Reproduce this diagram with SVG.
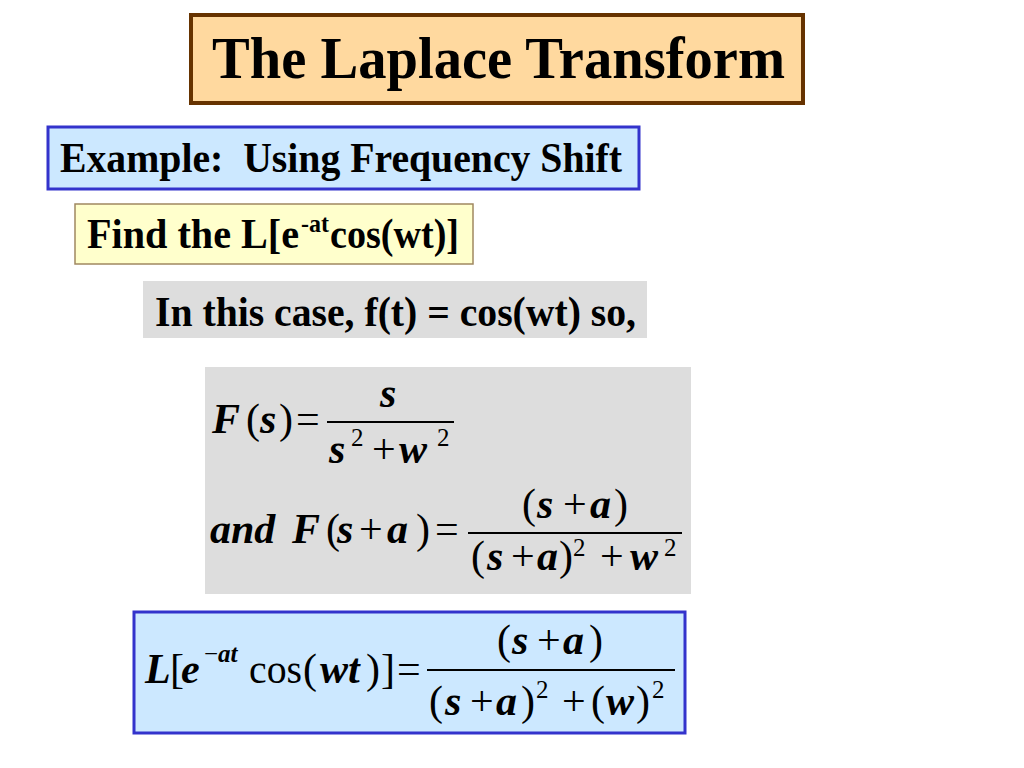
<svg xmlns="http://www.w3.org/2000/svg" width="1024" height="768" viewBox="0 0 1024 768">
<style>
text{font-family:"Liberation Serif","Times New Roman",serif;fill:#000}
.b{font-weight:bold}
.t{font-size:43px;font-weight:bold}
.m{font-size:42px}
.v{font-size:42px;font-weight:bold;font-style:italic}
.sup{font-size:25px}
.frac{stroke:#000;stroke-width:2}
</style>
<rect width="1024" height="768" fill="#fff"/>
<g id="title">
<rect x="191" y="15" width="612" height="88" fill="#FFD99F" stroke="#663300" stroke-width="4"/>
<text x="212" y="78" font-size="60" class="b" textLength="573" lengthAdjust="spacingAndGlyphs">The Laplace Transform</text>
</g>
<g id="example">
<rect x="48" y="127" width="591" height="62" fill="#CCE8FF" stroke="#3333CC" stroke-width="3"/>
<text x="60" y="172" class="t" xml:space="preserve" textLength="562" lengthAdjust="spacingAndGlyphs">Example:  Using Frequency Shift</text>
</g>
<g id="find">
<rect x="75" y="204" width="398" height="60" fill="#FFFFCC" stroke="#A08860" stroke-width="1.5"/>
<text x="87" y="248" class="t" textLength="212" lengthAdjust="spacingAndGlyphs">Find the L[e</text>
<text x="301" y="232" font-size="25" class="b" textLength="28" lengthAdjust="spacingAndGlyphs">-at</text>
<text x="330" y="248" class="t" textLength="129" lengthAdjust="spacingAndGlyphs">cos(wt)]</text>
</g>
<g id="case">
<rect x="143" y="281" width="504" height="57" fill="#DDDDDD"/>
<text x="155" y="326" class="t" textLength="481" lengthAdjust="spacingAndGlyphs">In this case, f(t) = cos(wt) so,</text>
</g>
<g id="formulas">
<rect x="205" y="367" width="486" height="227" fill="#DDDDDD"/>
<text x="212" y="433" class="v">F</text>
<text x="246" y="433" class="m">(</text>
<text x="260" y="433" class="v">s</text>
<text x="279" y="433" class="m">)</text>
<text x="296" y="433" class="m">=</text>
<text x="380" y="407" class="v">s</text>
<text x="329" y="463" class="v">s</text>
<text x="351" y="446" class="m sup">2</text>
<text x="372" y="463" class="m">+</text>
<text x="399" y="463" class="v">w</text>
<text x="437" y="446" class="m sup">2</text>
<text x="210" y="543" class="v">and</text>
<text x="292" y="543" class="v">F</text>
<text x="326" y="543" class="m">(</text>
<text x="337" y="543" class="v">s</text>
<text x="359" y="543" class="m">+</text>
<text x="387" y="543" class="v">a</text>
<text x="416" y="543" class="m">)</text>
<text x="435" y="543" class="m">=</text>
<text x="522" y="518" class="m">(</text>
<text x="537" y="518" class="v">s</text>
<text x="563" y="518" class="m">+</text>
<text x="590" y="518" class="v">a</text>
<text x="614" y="518" class="m">)</text>
<text x="471" y="570" class="m">(</text>
<text x="487" y="570" class="v">s</text>
<text x="511" y="570" class="m">+</text>
<text x="537" y="570" class="v">a</text>
<text x="559" y="570" class="m">)</text>
<text x="573" y="556" class="m sup">2</text>
<text x="600" y="570" class="m">+</text>
<text x="630" y="570" class="v">w</text>
<text x="664" y="556" class="m sup">2</text>
</g>
<g id="result">
<rect x="134" y="612" width="551" height="121" fill="#CCE8FF" stroke="#3333CC" stroke-width="3"/>
<text x="145" y="683" class="v">L</text>
<text x="170" y="683" class="m">[</text>
<text x="181" y="683" class="v">e</text>
<text x="204" y="662" class="m sup">−<tspan font-weight="bold" font-style="italic">at</tspan></text>
<text x="249" y="683" class="m" textLength="53" lengthAdjust="spacingAndGlyphs">cos</text>
<text x="303" y="683" class="m">(</text>
<text x="320" y="683" class="v">wt</text>
<text x="366" y="683" class="m">)</text>
<text x="381" y="683" class="m">]</text>
<text x="397" y="683" class="m">=</text>
<text x="497" y="654" class="m">(</text>
<text x="512" y="654" class="v">s</text>
<text x="537" y="654" class="m">+</text>
<text x="563" y="654" class="v">a</text>
<text x="589" y="654" class="m">)</text>
<text x="429" y="715" class="m">(</text>
<text x="445" y="715" class="v">s</text>
<text x="470" y="715" class="m">+</text>
<text x="496" y="715" class="v">a</text>
<text x="521" y="715" class="m">)</text>
<text x="536" y="698" class="m sup">2</text>
<text x="562" y="715" class="m">+</text>
<text x="591" y="715" class="m">(</text>
<text x="606" y="715" class="v">w</text>
<text x="636" y="715" class="m">)</text>
<text x="652" y="698" class="m sup">2</text>
</g>
<g id="connectors">
<line class="frac" x1="327" y1="422" x2="454" y2="422"/>
<line class="frac" x1="468" y1="533" x2="682" y2="533"/>
<line class="frac" x1="427" y1="670" x2="675" y2="670"/>
</g>
</svg>
